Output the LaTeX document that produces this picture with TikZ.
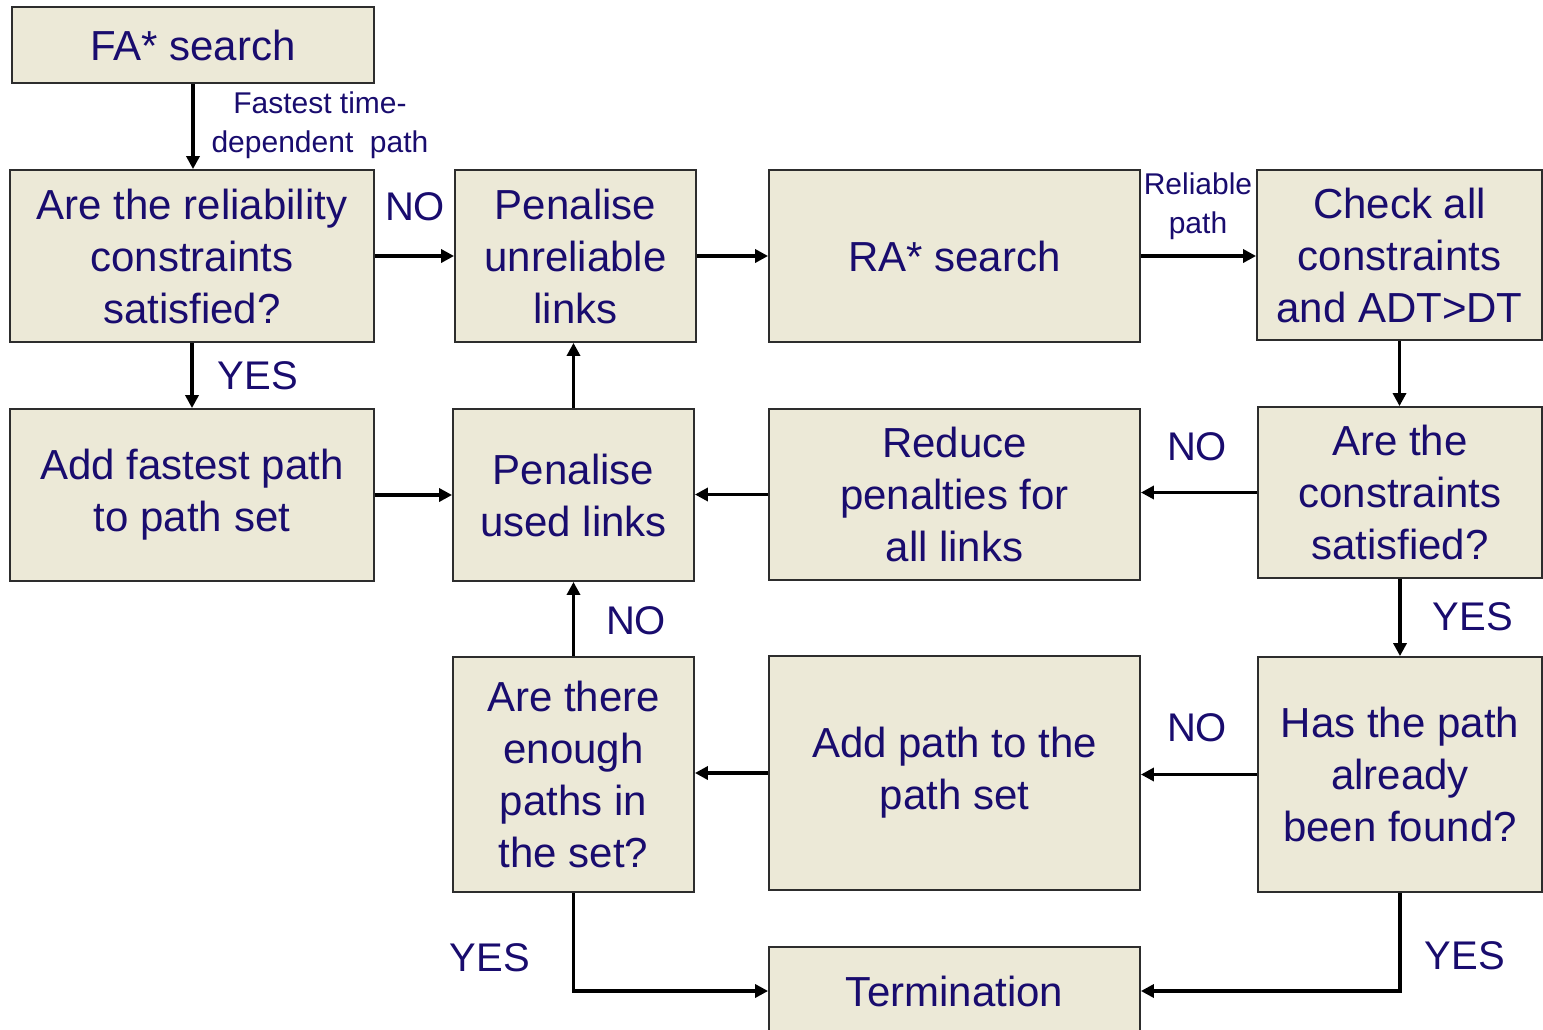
\documentclass[tikz,border=0pt]{standalone}
\usepackage{fontspec}
\setmainfont{Liberation Sans}
\usetikzlibrary{arrows.meta}
\definecolor{boxfill}{RGB}{236,233,215}
\definecolor{txt}{RGB}{25,12,110}
\definecolor{edge}{RGB}{45,45,45}
\begin{document}
\begin{tikzpicture}[x=1pt,y=-1pt,
 box/.style={draw=edge,line width=1.8pt,fill=boxfill,text=txt,align=center,inner sep=0pt,font=\fontsize{42}{52}\selectfont},
 arr/.style={line width=3.5pt,-{Triangle[length=13pt,width=13pt]}},
 lab/.style={text=txt,font=\fontsize{40}{50}\selectfont,inner sep=0pt},
 small/.style={text=txt,font=\fontsize{30}{39}\selectfont,inner sep=0pt,align=center}]
\useasboundingbox (0,0) rectangle (1543,1029);
\clip (0,0) rectangle (1543,1029);
\node[box,minimum width=362pt,minimum height=76pt] (fa) at (193,45) {FA* search};
\node[box,minimum width=364pt,minimum height=172pt] (q1) at (192,256) {Are the reliability\\constraints\\satisfied?};
\node[box,minimum width=241pt,minimum height=172pt] (penu) at (575.5,256) {Penalise\\unreliable\\links};
\node[box,minimum width=371pt,minimum height=172pt] (ra) at (954.5,256) {RA* search};
\node[box,minimum width=285pt,minimum height=170pt] (check) at (1399.5,255) {Check all\\constraints\\and ADT>DT};
\node[box,minimum width=364pt,minimum height=172pt] (addf) at (192,495) {Add fastest path\\to path set};
\node[box,minimum width=241pt,minimum height=172pt] (penused) at (573.5,495) {Penalise\\used links};
\node[box,minimum width=371pt,minimum height=171pt] (reduce) at (954.5,494.5) {Reduce\\penalties for\\all links};
\node[box,minimum width=284pt,minimum height=171pt] (q2) at (1400,492.5) {Are the\\constraints\\satisfied?};
\node[box,minimum width=241pt,minimum height=235pt] (enough) at (573.5,774.5) {Are there\\enough\\paths in\\the set?};
\node[box,minimum width=371pt,minimum height=234pt] (addp) at (954.5,773) {Add path to the\\path set};
\node[box,minimum width=284pt,minimum height=235pt] (has) at (1400,774.5) {Has the path\\already\\been found?};
\node[box,minimum width=371pt,minimum height=88pt] (term) at (954.5,991) {Termination};
% arrows
\draw[arr] (fa.south) -- (fa.south |- q1.north);
\draw[arr] (q1.east) -- (penu.west);
\draw[arr] (penu.east) -- (ra.west);
\draw[arr] (ra.east) -- (ra.east -| check.west);
\draw[arr] (check.south) -- (check.south |- q2.north);
\draw[arr] (q2.west) -- (q2.west -| reduce.east);
\draw[arr] (reduce.west) -- (reduce.west -| penused.east);
\draw[arr] (addf.east) -- (addf.east -| penused.west);
\draw[arr] (penused.north) -- (penused.north |- penu.south);
\draw[arr] (q1.south) -- (q1.south |- addf.north);
\draw[arr] (q2.south) -- (q2.south |- has.north);
\draw[arr] (has.west) -- (has.west -| addp.east);
\draw[arr] (addp.west) -- (addp.west -| enough.east);
\draw[arr] (enough.north) -- (enough.north |- penused.south);
\draw[arr] (enough.south) |- (term.west);
\draw[arr] (has.south) |- (term.east);
% labels
\node[small] (l1) at (320,125) {Fastest time-\\dependent\ \ path};
\node[small] (l2) at (1198,206) {Reliable\\path};
\node[lab] (n1) at (415,207) {NO};
\node[lab] (n2) at (1197,447) {NO};
\node[lab] (n3) at (1197,728) {NO};
\node[lab] (n4) at (636,621) {NO};
\node[lab] (y1) at (258,376) {YES};
\node[lab] (y2) at (1473,617) {YES};
\node[lab] (y3) at (490,958) {YES};
\node[lab] (y4) at (1465,956) {YES};
\end{tikzpicture}
\end{document}
